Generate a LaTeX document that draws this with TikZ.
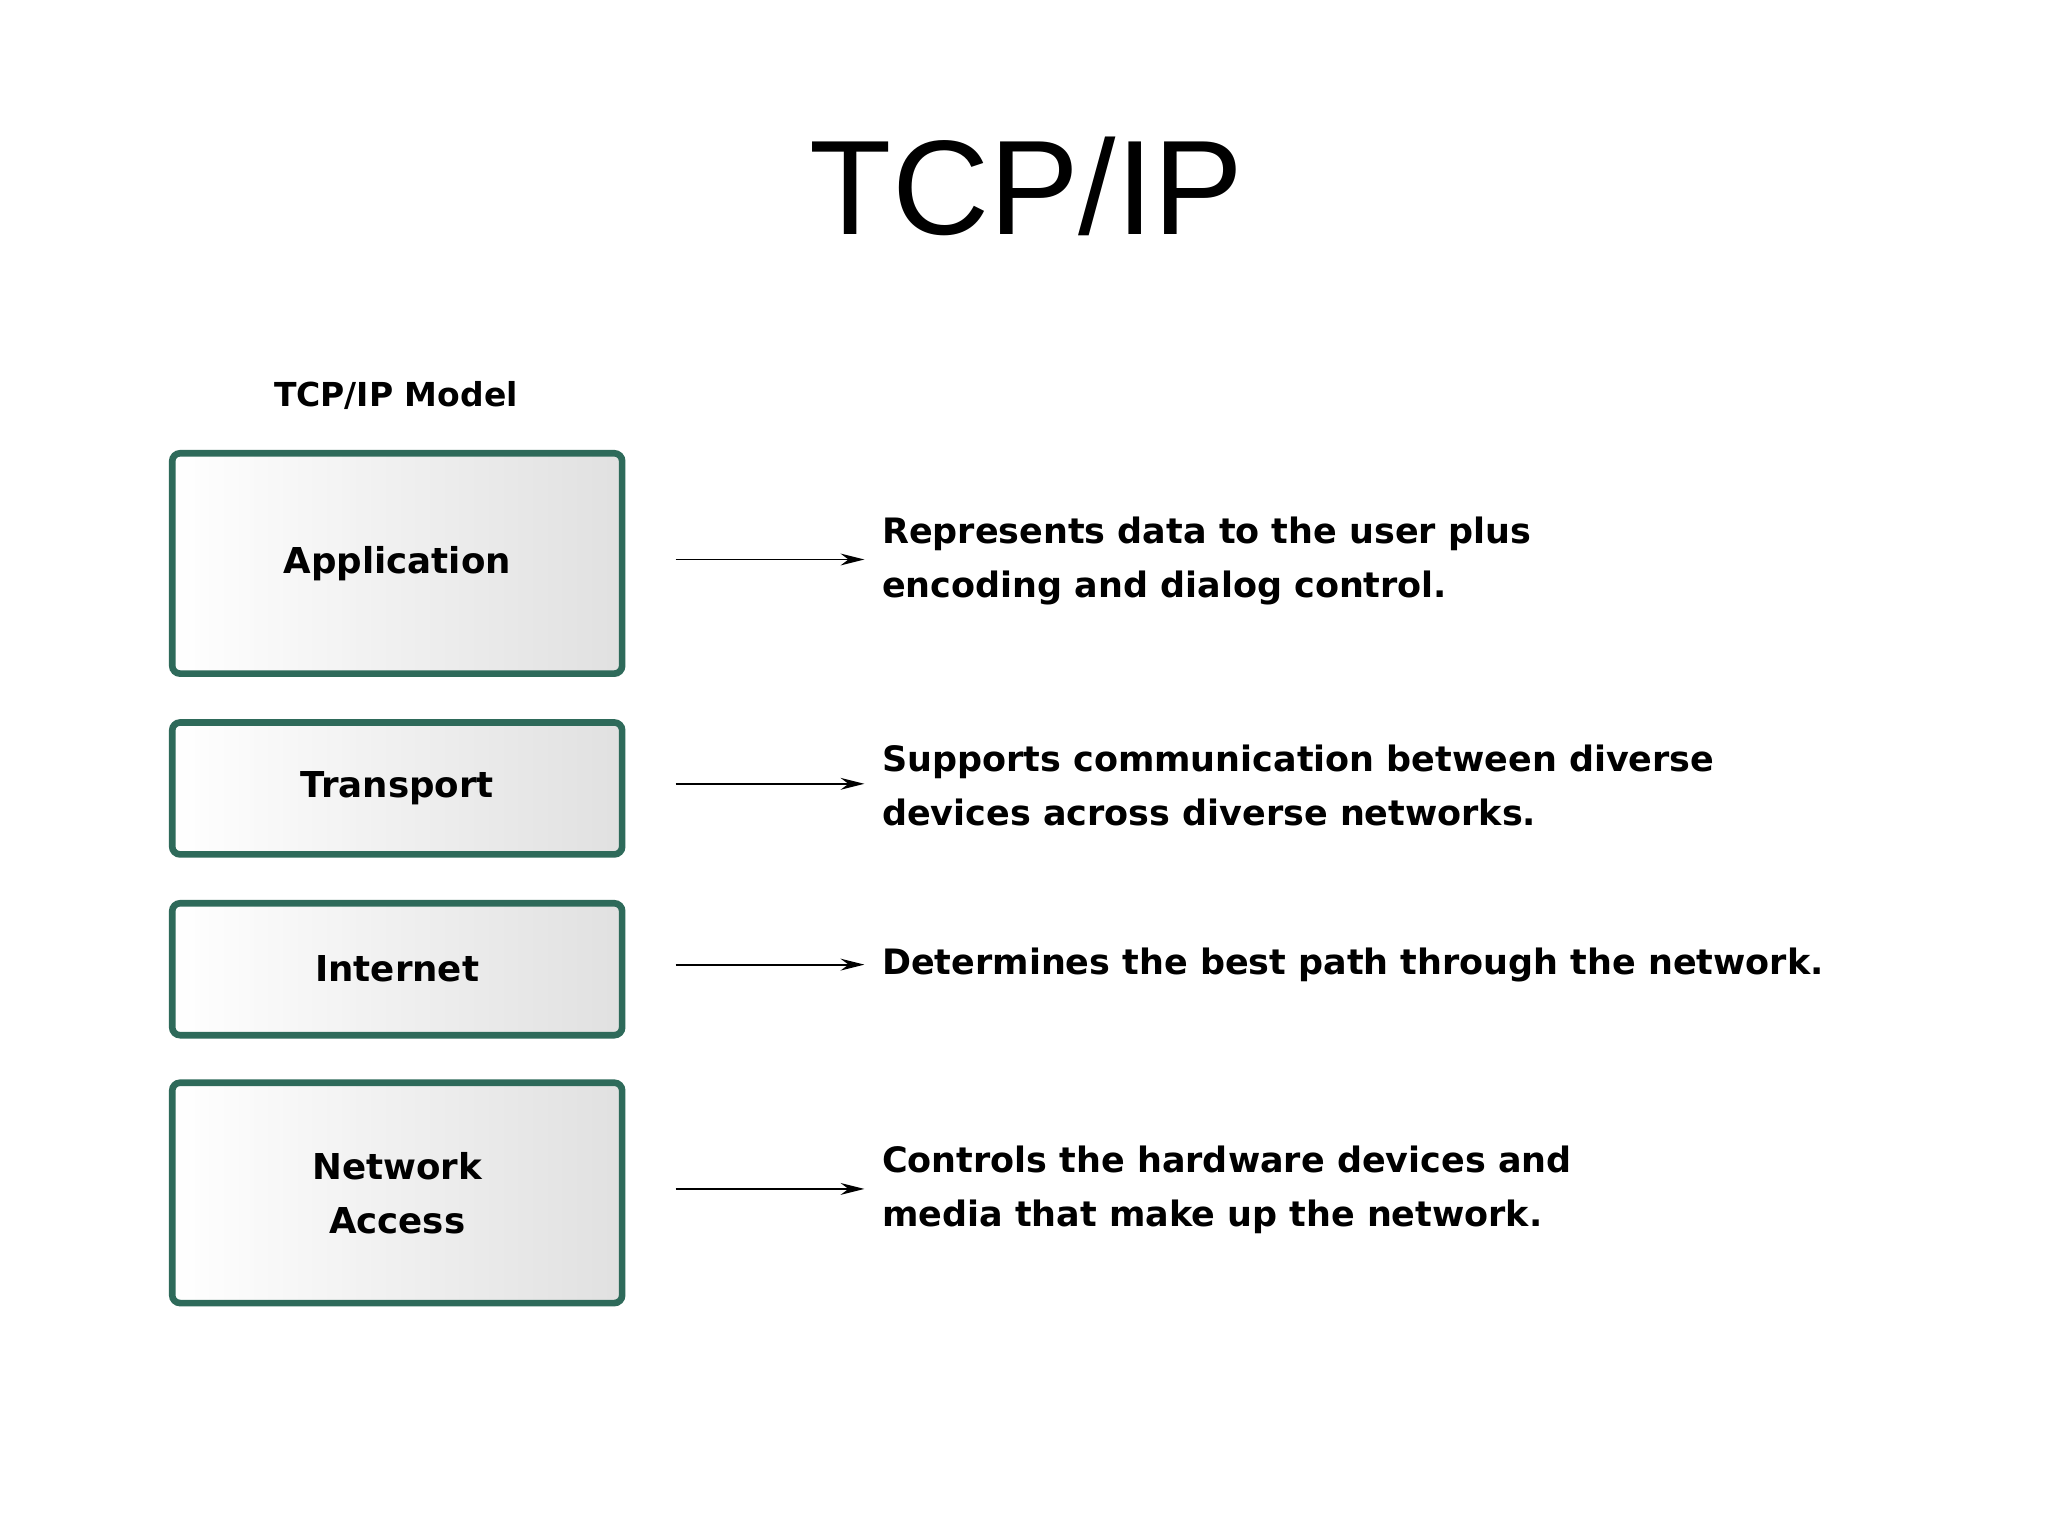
\documentclass[tikz,border=0pt]{standalone}
\usepackage{fontspec}
\usetikzlibrary{arrows.meta}
\setmainfont{DejaVu Sans}
\newfontfamily\titlefont{Liberation Sans}
\definecolor{boxgreen}{HTML}{2E6A5A}
\begin{document}
\begin{tikzpicture}[x=1pt,y=1pt,
  layer/.style={draw=boxgreen,line width=5pt,rounded corners=6pt,
     left color=white,right color=black!12,anchor=north west,font=\bfseries\fontsize{27}{41}\selectfont,align=center},
  desc/.style={anchor=west,align=left,font=\bfseries\fontsize{26.5}{41}\selectfont},
  arr/.style={-{Stealth[length=18pt,width=9pt,inset=6pt]},line width=1.5pt}]
\useasboundingbox (0,0) rectangle (1552,1164);
\begin{scope}[shift={(-5,6)}]
\node[font=\titlefont\fontsize{102}{112}\selectfont] (title) at (783,1017) {TCP/IP};
\node[font=\bfseries\fontsize{25}{30}\selectfont] (model) at (305,858) {TCP/IP Model};
\node[layer,minimum width=341pt,minimum height=167pt] (app) at (133,817) {Application};
\node[layer,minimum width=341pt,minimum height=100pt] (tr) at (133,613) {Transport};
\node[layer,minimum width=341pt,minimum height=100pt] (inet) at (133,476) {Internet};
\node[layer,minimum width=341pt,minimum height=167pt] (na) at (133,340) {Network\\Access};
\coordinate (a1) at (517,734); \coordinate (a2) at (660,734);
\coordinate (b1) at (517,564); \coordinate (b2) at (660,564);
\coordinate (c1) at (517,427); \coordinate (c2) at (660,427);
\coordinate (d1) at (517,257); \coordinate (d2) at (660,257);
\draw[arr] (a1) -- (a2); \draw[arr] (b1) -- (b2); \draw[arr] (c1) -- (c2); \draw[arr] (d1) -- (d2);
\node[desc] (da) at (670,733) {Represents data to the user plus\\encoding and dialog control.};
\node[desc] (db) at (670,563) {Supports communication between diverse\\devices across diverse networks.};
\node[desc] (dc) at (670,427) {Determines the best path through the network.};
\node[desc] (dd) at (670,256) {Controls the hardware devices and\\media that make up the network.};
\end{scope}
\end{tikzpicture}
\end{document}
